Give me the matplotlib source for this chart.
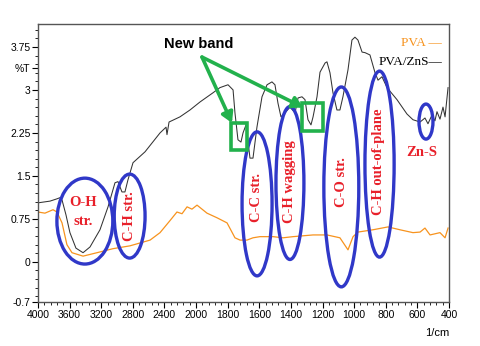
import numpy as np
import matplotlib
matplotlib.use("Agg")
import matplotlib.pyplot as plt
from matplotlib.patches import Ellipse, Rectangle
from matplotlib.ticker import FixedLocator, MultipleLocator

# ---------------------------------------------------------------- data
# PVA/ZnS spectrum (black), wavenumber [1/cm] and %T
wn_zns = [4000, 3848, 3760, 3722, 3696, 3646, 3596, 3520, 3430, 3342, 3216, 3114,
          3026, 2988, 2938, 2900, 2862, 2798, 2646, 2456, 2380, 2368, 2342, 2204,
          2077, 1975, 1893, 1849, 1798, 1766, 1754, 1735, 1716, 1703, 1684, 1659,
          1640, 1615, 1583, 1551, 1520, 1501, 1482, 1463, 1437, 1406, 1374, 1355,
          1330, 1311, 1292, 1273, 1260, 1235, 1216, 1184, 1172, 1153, 1134, 1109,
          1090, 1071, 1039, 1014, 995, 976, 950, 931, 900, 868, 849, 824, 792, 729,
          666, 628, 583, 552, 533, 508, 489, 476, 457, 438, 425, 406]
t_zns = [1.03, 1.06, 1.10, 1.12, 1.08, 0.82, 0.51, 0.24, 0.16, 0.26, 0.56, 0.96,
         1.38, 1.40, 1.22, 1.22, 1.43, 1.73, 1.92, 2.25, 2.35, 2.22, 2.44, 2.53,
         2.65, 2.79, 2.95, 3.04, 3.09, 3.00, 2.60, 2.13, 2.09, 2.25, 2.39, 1.81,
         1.81, 2.35, 2.88, 3.09, 3.14, 3.09, 2.77, 2.53, 2.60, 2.70, 2.60, 2.86,
         2.88, 2.83, 2.48, 2.39, 2.53, 2.88, 3.31, 3.47, 3.49, 3.30, 2.95, 2.65,
         2.65, 2.88, 3.35, 3.87, 3.92, 3.87, 3.66, 3.65, 3.61, 3.30, 3.17, 3.23,
         3.04, 2.83, 2.58, 2.48, 2.44, 2.51, 2.41, 2.56, 2.46, 2.62, 2.49, 2.70,
         2.53, 3.04]

# PVA spectrum (orange)
wn_pva = [4000, 3912, 3810, 3760, 3696, 3634, 3570, 3430, 3254, 3052, 2836, 2582,
          2456, 2330, 2242, 2178, 2114, 2052, 1994, 1931, 1868, 1804, 1754, 1722,
          1678, 1640, 1596, 1513, 1450, 1387, 1260, 1172, 1090, 1039, 1007, 976,
          881, 786, 710, 628, 583, 552, 520, 457, 425, 406]
t_pva = [0.87, 0.85, 0.91, 0.87, 0.68, 0.30, 0.16, 0.10, 0.16, 0.23, 0.28, 0.38,
         0.51, 0.72, 0.87, 0.84, 0.96, 0.92, 0.99, 0.85, 0.77, 0.68, 0.42, 0.38,
         0.38, 0.42, 0.44, 0.44, 0.42, 0.44, 0.47, 0.47, 0.42, 0.21, 0.44, 0.52,
         0.56, 0.61, 0.56, 0.51, 0.52, 0.59, 0.47, 0.51, 0.42, 0.59]

# band assignments: label, wavenumber, %T, rotated
band_labels = ["O-H", "str.", "C-H str.", "C-C str.", "C-H wagging", "C-O str.",
               "C-H out-of-plane", "Zn-S"]
band_wn = [3430, 3430, 2848, 1615, 1406, 1077, 843, 571]
band_t = [1.03, 0.70, 0.80, 1.13, 1.40, 1.40, 1.74, 1.90]
band_rot = [0, 0, 90, 90, 90, 90, 90, 0]

x_major = [4000, 3600, 3200, 2800, 2400, 2000, 1800, 1600, 1400, 1200, 1000, 800, 600, 400]
y_major = [3.75, 3.375, 3, 2.25, 1.5, 0.75, 0, -0.7]
y_labels = ["3.75", "%T", "3", "2.25", "1.5", "0.75", "0", "-0.7"]

ORANGE = "#f7931e"
BLUE = "#3038c8"
RED = "#e8202a"
GREEN = "#22b14c"


# FTIR style axis: 4000-2000 compressed by two
def fwd(w):
    w = np.asarray(w, dtype=float)
    return np.where(w > 2000, 2000 + (w - 2000) / 2.0, w)


def inv(u):
    u = np.asarray(u, dtype=float)
    return np.where(u > 2000, 2000 + (u - 2000) * 2.0, u)


fig = plt.figure(figsize=(4.8, 3.46), dpi=100)
ax = fig.add_axes([38 / 480, 44 / 346, 411 / 480, 278 / 346])
ax.set_xscale("function", functions=(fwd, inv))

ax.plot(wn_pva, t_pva, color=ORANGE, lw=0.9)
ax.plot(wn_zns, t_zns, color="#333333", lw=0.75)

ax.set_xlim(4000, 400)
ax.set_ylim(-0.7, 4.15)

ax.xaxis.set_major_locator(FixedLocator(x_major))
ax.set_xticklabels([str(v) for v in x_major])
minors = list(np.arange(4000, 2000, -80)) + list(np.arange(2000, 399, -40))
ax.xaxis.set_minor_locator(FixedLocator(minors))
ax.yaxis.set_major_locator(FixedLocator(y_major))
ax.set_yticklabels(y_labels)
ax.yaxis.set_minor_locator(MultipleLocator(0.15))

for lab in ax.get_xticklabels() + ax.get_yticklabels():
    lab.set_family(["Liberation Sans Narrow", "Liberation Sans", "DejaVu Sans"])
    lab.set_fontsize(7.5)
ax.tick_params(which="major", direction="out", length=4, width=0.8, pad=1.5)
ax.tick_params(which="minor", direction="out", length=2.5, width=0.6)
for sp in ax.spines.values():
    sp.set_color("#555555")
    sp.set_linewidth(1.0)

ax.text(1.0, -0.11, "1/cm", transform=ax.transAxes, ha="right", va="center",
        fontsize=8, family=["Liberation Sans Narrow", "Liberation Sans"])

# blue ellipses (axes fractions: cx, cy, w, h)
ellipses = [(0.114, 0.291, 0.136, 0.309), (0.223, 0.309, 0.075, 0.302),
            (0.533, 0.353, 0.073, 0.518), (0.613, 0.428, 0.068, 0.550),
            (0.738, 0.414, 0.085, 0.719), (0.831, 0.496, 0.071, 0.669),
            (0.944, 0.649, 0.034, 0.126)]
for cx, cy, w, h in ellipses:
    ax.add_patch(Ellipse((cx, cy), w, h, transform=ax.transAxes, fill=False,
                         ec=BLUE, lw=2.4, zorder=4))

for lab, w, t, r in zip(band_labels, band_wn, band_t, band_rot):
    ax.text(w, t, lab, rotation=r, ha="center", va="center", color=RED,
            fontsize=10.5, fontweight="bold", family="Liberation Serif", zorder=5)

# new band markers
for x0, y0, w, h in [(0.470, 0.547, 0.039, 0.097), (0.642, 0.615, 0.051, 0.101)]:
    ax.add_patch(Rectangle((x0, y0), w, h, transform=ax.transAxes, fill=False,
                           ec=GREEN, lw=2.6, zorder=6))
for tip in [(0.472, 0.644), (0.645, 0.700)]:
    ax.annotate("", xy=tip, xytext=(0.399, 0.881), xycoords="axes fraction",
                arrowprops=dict(arrowstyle="-|>,head_length=0.6,head_width=0.35",
                                color=GREEN, lw=2.6, shrinkA=0, shrinkB=0), zorder=6)
ax.text(0.392, 0.928, "New band", transform=ax.transAxes, ha="center", va="center",
        fontsize=10.5, fontweight="bold", family="Liberation Sans")

# legend text
ax.text(0.983, 0.932, "PVA \u2014", transform=ax.transAxes, ha="right", va="center",
        color=ORANGE, fontsize=9.5, family="Liberation Serif")
ax.text(0.983, 0.863, "PVA/ZnS\u2014", transform=ax.transAxes, ha="right", va="center",
        color="black", fontsize=9.5, family="Liberation Serif")

fig.savefig("out.png", dpi=100)
